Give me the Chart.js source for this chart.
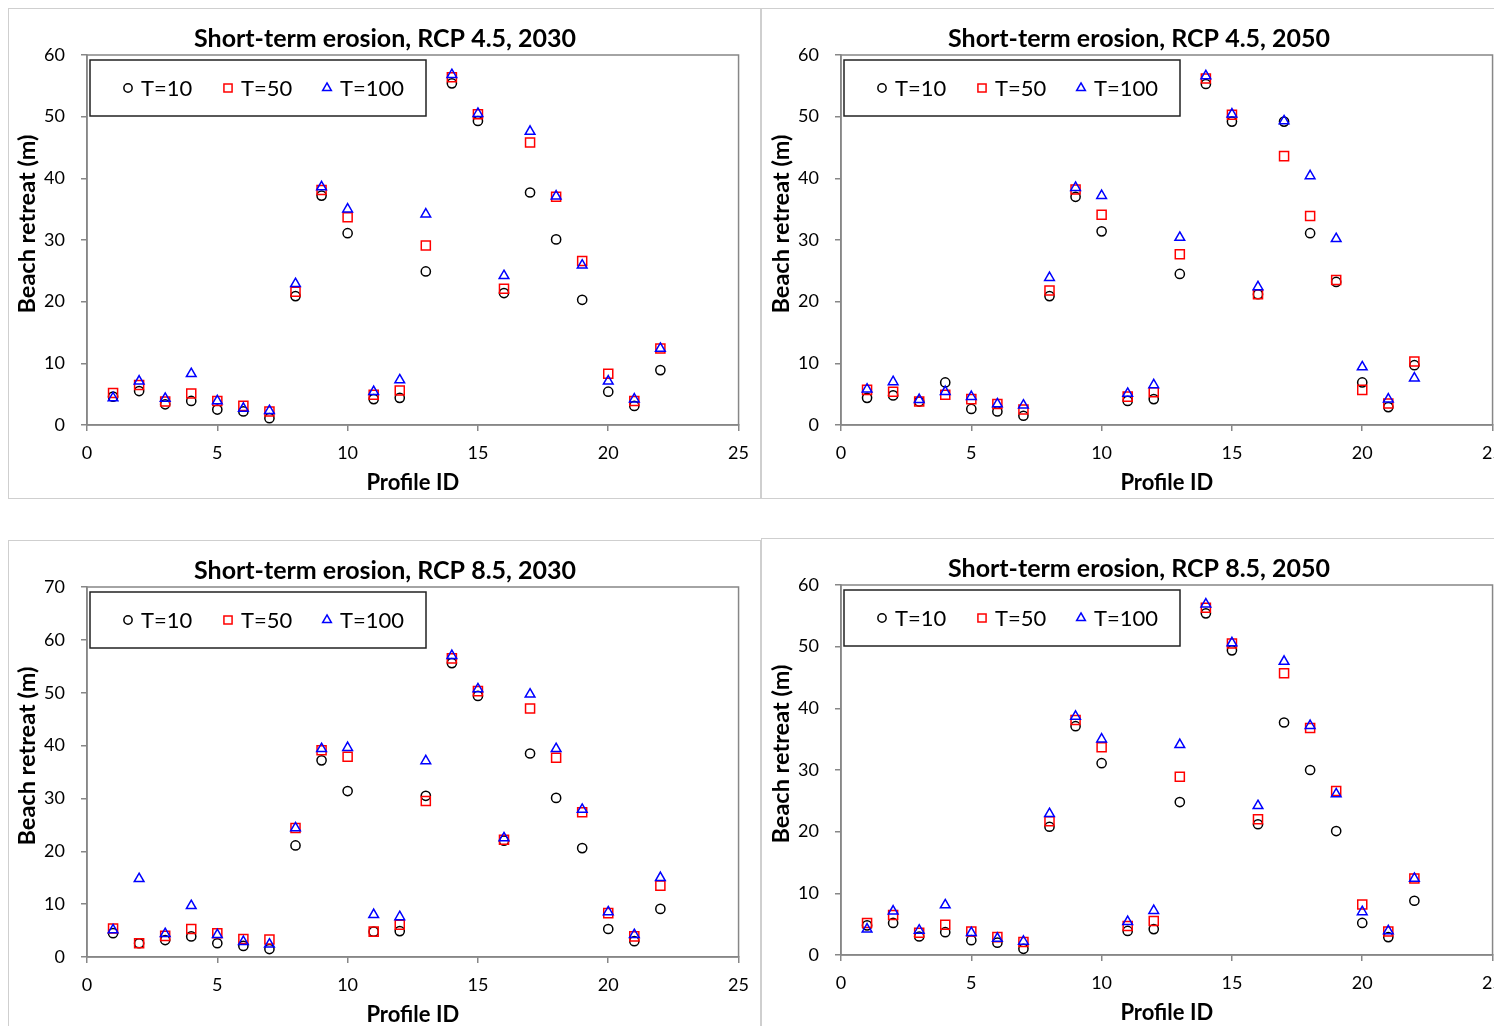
<!DOCTYPE html>
<html>
<head>
<meta charset="utf-8">
<script src="https://cdn.jsdelivr.net/npm/chart.js"></script>
<style>
  html, body { margin: 0; padding: 0; background: #fff; overflow: hidden; width: 1494px; height: 1026px; }
  .frame { position: absolute; border: 1px solid #cfcfcf; box-sizing: border-box; }
  canvas { position: absolute; }
</style>
</head>
<body>
<div class="frame" style="left:8px;top:8px;width:753px;height:491px"></div>
<div class="frame" style="left:761px;top:8px;width:760px;height:491px"></div>
<div class="frame" style="left:8px;top:540px;width:753px;height:500px"></div>
<div class="frame" style="left:761px;top:538px;width:760px;height:500px"></div>
<canvas id="c1" width="752" height="490" style="left:8px;top:8px"></canvas>
<canvas id="c2" width="752" height="490" style="left:762px;top:8px"></canvas>
<canvas id="c3" width="752" height="490" style="left:8px;top:540px"></canvas>
<canvas id="c4" width="752" height="490" style="left:762px;top:538px"></canvas>
<script>
const profileIds = [1, 2, 3, 4, 5, 6, 7, 8, 9, 10, 11, 12, 13, 14, 15, 16, 17, 18, 19, 20, 21, 22];
const seriesLabels = ["T=10", "T=50", "T=100"];

// RCP 4.5, 2030
const rcp45_2030_t10 = [4.6, 5.5, 3.35, 3.9, 2.5, 2.2, 1.1, 20.9, 37.2, 31.1, 4.2, 4.4, 24.9, 55.4, 49.3, 21.4, 37.7, 30.1, 20.3, 5.4, 3.1, 8.9];
const rcp45_2030_t50 = [5.2, 6.5, 3.8, 5.1, 3.9, 3.1, 2.2, 21.6, 38.1, 33.7, 4.9, 5.6, 29.1, 56.4, 50.4, 22.1, 45.8, 37.0, 26.6, 8.3, 3.9, 12.4];
const rcp45_2030_t100 = [4.4, 7.1, 4.3, 8.3, 3.9, 2.7, 2.3, 22.9, 38.6, 35.0, 5.4, 7.3, 34.2, 56.8, 50.5, 24.2, 47.6, 37.1, 25.9, 7.1, 4.2, 12.4];

// RCP 4.5, 2050
const rcp45_2050_t10 = [4.4, 4.8, 3.8, 6.9, 2.6, 2.2, 1.5, 20.9, 37.0, 31.4, 3.9, 4.2, 24.5, 55.3, 49.2, 21.2, 49.2, 31.1, 23.2, 6.9, 2.9, 9.7];
const rcp45_2050_t50 = [5.7, 5.4, 3.8, 4.9, 4.2, 3.4, 2.5, 21.8, 38.2, 34.1, 4.6, 5.3, 27.7, 56.2, 50.3, 21.2, 43.6, 33.9, 23.5, 5.7, 3.5, 10.3];
const rcp45_2050_t100 = [5.8, 7.0, 4.1, 5.4, 4.6, 3.4, 3.2, 23.9, 38.5, 37.2, 5.1, 6.5, 30.4, 56.6, 50.4, 22.4, 49.3, 40.4, 30.2, 9.4, 4.2, 7.6];

// RCP 8.5, 2030
const rcp85_2030_t10 = [4.5, 2.6, 3.2, 3.9, 2.6, 2.1, 1.5, 21.1, 37.2, 31.4, 4.8, 4.9, 30.5, 55.6, 49.4, 22.0, 38.5, 30.1, 20.6, 5.3, 3.0, 9.1];
const rcp85_2030_t50 = [5.4, 2.6, 4.0, 5.3, 4.5, 3.4, 3.3, 24.4, 39.1, 37.9, 4.8, 6.1, 29.5, 56.5, 50.3, 22.2, 47.0, 37.7, 27.4, 8.3, 3.9, 13.5];
const rcp85_2030_t100 = [5.1, 14.8, 4.4, 9.7, 4.2, 2.9, 2.4, 24.4, 39.4, 39.6, 8.0, 7.6, 37.1, 57.0, 50.7, 22.5, 49.7, 39.4, 27.9, 8.5, 4.2, 15.0];

// RCP 8.5, 2050
const rcp85_2050_t10 = [4.8, 5.2, 3.0, 3.7, 2.4, 2.0, 1.0, 20.8, 37.1, 31.1, 3.9, 4.2, 24.8, 55.4, 49.4, 21.2, 37.7, 30.0, 20.1, 5.2, 2.9, 8.8];
const rcp85_2050_t50 = [5.2, 6.5, 3.6, 4.9, 3.8, 2.9, 2.1, 21.7, 38.1, 33.7, 4.7, 5.5, 28.9, 56.3, 50.5, 22.0, 45.7, 36.8, 26.6, 8.2, 3.8, 12.4];
const rcp85_2050_t100 = [4.2, 7.1, 4.0, 8.1, 3.6, 2.7, 2.2, 22.9, 38.7, 35.0, 5.4, 7.2, 34.1, 56.9, 50.6, 24.2, 47.6, 37.2, 26.1, 7.0, 3.9, 12.4];

const axisColor = "#878787";
const fontFamily = "Lato, 'Open Sans', sans-serif";
Chart.defaults.font.family = fontFamily;
Chart.defaults.color = "#000";

const styles = [
  { pointStyle: "circle", color: "#000000", radius: 4.6 },
  { pointStyle: "rect", color: "#ff0000", radius: 6.4 },
  { pointStyle: "triangle", color: "#0000ff", radius: 5.6 }
];

function drawMarker(ctx, style, x, y, r) {
  ctx.beginPath();
  if (style === "circle") {
    ctx.arc(x, y, r, 0, Math.PI * 2);
  } else if (style === "rect") {
    const s = r * Math.SQRT1_2;
    ctx.rect(x - s, y - s, 2 * s, 2 * s);
  } else {
    ctx.moveTo(x, y - r);
    ctx.lineTo(x + r * 0.866, y + r / 2);
    ctx.lineTo(x - r * 0.866, y + r / 2);
    ctx.closePath();
  }
  ctx.stroke();
}

// plot frame, y axis title and legend box inside the plot area
const framePlugin = {
  id: "frame",
  beforeDatasetsDraw(chart) {
    const { ctx, chartArea: a } = chart;
    ctx.save();
    ctx.strokeStyle = axisColor;
    ctx.lineWidth = 1.5;
    ctx.strokeRect(a.left, a.top, a.right - a.left, a.bottom - a.top);
    // y axis title, sits a bit above the plot middle like the original
    ctx.translate(19, (a.top + a.bottom) / 2 - 16);
    ctx.rotate(-Math.PI / 2);
    ctx.fillStyle = "#000";
    ctx.font = "bold 23.5px " + fontFamily;
    ctx.textAlign = "center";
    ctx.textBaseline = "middle";
    ctx.fillText("Beach retreat (m)", 0, 0);
    ctx.restore();
  },
  afterDatasetsDraw(chart) {
    const { ctx, chartArea: a } = chart;
    const bx = a.left + 3, by = a.top + 5;
    ctx.save();
    ctx.fillStyle = "#fff";
    ctx.fillRect(bx, by, 336, 56);
    ctx.strokeStyle = "#222";
    ctx.lineWidth = 1.5;
    ctx.strokeRect(bx, by, 336, 56);
    const offsets = [41, 141, 240];
    chart.data.datasets.forEach((ds, i) => {
      const cx = a.left + offsets[i];
      const cy = a.top + 33;
      ctx.strokeStyle = ds.borderColor;
      ctx.lineWidth = 1.5;
      drawMarker(ctx, ds.pointStyle, cx, cy, ds.pointRadius * 0.9);
      ctx.fillStyle = "#000";
      ctx.font = "22px " + fontFamily;
      ctx.textBaseline = "middle";
      ctx.textAlign = "left";
      ctx.fillText(ds.label, cx + 13, cy + 1);
    });
    ctx.restore();
  }
};

function makeChart(id, title, yMax, t10, t50, t100) {
  const series = [t10, t50, t100];
  new Chart(document.getElementById(id), {
    type: "scatter",
    data: {
      datasets: series.map((vals, i) => ({
        label: seriesLabels[i],
        data: profileIds.map((p, k) => ({ x: p, y: vals[k] })),
        pointStyle: styles[i].pointStyle,
        pointRadius: styles[i].radius,
        pointHoverRadius: styles[i].radius,
        pointBorderWidth: 1.5,
        borderColor: styles[i].color,
        backgroundColor: "rgba(0,0,0,0)",
        order: 3 - i
      }))
    },
    options: {
      responsive: false,
      animation: false,
      events: [],
      layout: { padding: { left: 22, right: 20, top: 0, bottom: 0 } },
      plugins: {
        legend: { display: false },
        tooltip: { enabled: false },
        title: {
          display: true,
          text: title,
          color: "#000",
          font: { size: 25, weight: "bold" },
          padding: { top: 16, bottom: 1 }
        }
      },
      scales: {
        x: {
          type: "linear",
          min: 0,
          max: 25,
          ticks: { stepSize: 5, font: { size: 18 }, padding: 11, color: "#000" },
          grid: { drawOnChartArea: false, tickLength: 6, color: axisColor, lineWidth: 1.5 },
          border: { color: axisColor, width: 1.5 },
          title: { display: true, text: "Profile ID", font: { size: 22, weight: "bold" }, padding: { top: 0, bottom: 2 } },
          afterFit: s => { s.height = 73; }
        },
        y: {
          min: 0,
          max: yMax,
          ticks: { stepSize: 10, font: { size: 18 }, padding: 16, color: "#000" },
          grid: { drawOnChartArea: false, tickLength: 6, color: axisColor, lineWidth: 1.5 },
          border: { color: axisColor, width: 1.5 },
          afterFit: s => { s.width = 57; }
        }
      }
    },
    plugins: [framePlugin]
  });
}

makeChart("c1", "Short-term erosion, RCP 4.5, 2030", 60, rcp45_2030_t10, rcp45_2030_t50, rcp45_2030_t100);
makeChart("c2", "Short-term erosion, RCP 4.5, 2050", 60, rcp45_2050_t10, rcp45_2050_t50, rcp45_2050_t100);
makeChart("c3", "Short-term erosion, RCP 8.5, 2030", 70, rcp85_2030_t10, rcp85_2030_t50, rcp85_2030_t100);
makeChart("c4", "Short-term erosion, RCP 8.5, 2050", 60, rcp85_2050_t10, rcp85_2050_t50, rcp85_2050_t100);
</script>
</body>
</html>
